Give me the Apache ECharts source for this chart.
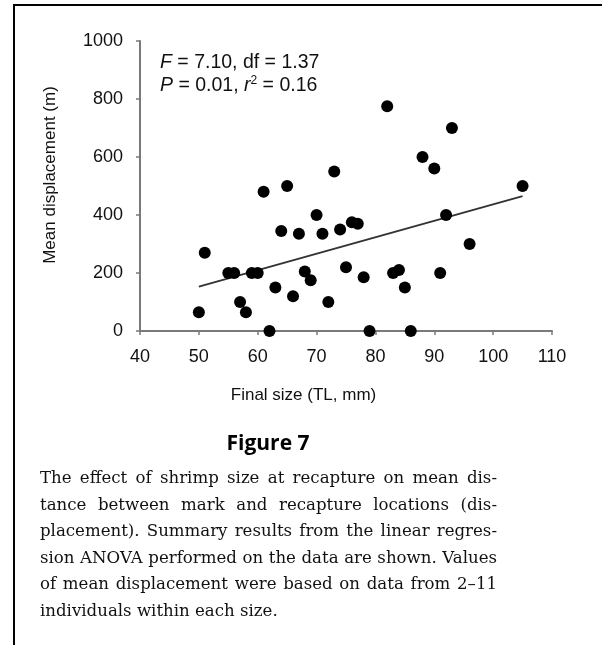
<!DOCTYPE html>
<html>
<head>
<meta charset="utf-8">
<script src="https://cdn.jsdelivr.net/npm/echarts@6/dist/echarts.min.js"></script>
<style>
  body { margin: 0; background: #fff; }
  #wrap { position: relative; width: 602px; height: 645px; overflow: hidden; }
  #frame {
    position: absolute; left: 13px; top: 4px; right: 0; bottom: 0;
    border-top: 2px solid #000; border-left: 2px solid #000;
  }
  #myChart { position: absolute; left: 0; top: 0; width: 602px; height: 645px; }
  #caption {
    position: absolute; left: 40px; top: 465px; width: 457px;
    font-family: "DejaVu Serif", serif; font-size: 16.6px; line-height: 26.5px;
    color: #111;
  }
  #caption span { display: block; text-align: justify; text-align-last: justify; white-space: nowrap; }
  #caption span.last { text-align-last: left; }
</style>
</head>
<body>
<div id="wrap">
  <div id="frame"></div>
  <div id="myChart"></div>
  <div id="caption">
    <span>The effect of shrimp size at recapture on mean dis-</span>
    <span>tance between mark and recapture locations (dis-</span>
    <span>placement). Summary results from the linear regres-</span>
    <span>sion ANOVA performed on the data are shown. Values</span>
    <span>of mean displacement were based on data from 2&#8211;11</span>
    <span class="last">individuals within each size.</span>
  </div>
</div>
<script>
// final size (TL, mm) and mean displacement (m)
var sizeMm = [50, 51, 55, 56, 57, 58, 59, 60, 61, 62, 63, 64, 65, 66, 67, 68, 69, 70, 71, 72,
  73, 74, 75, 76, 77, 78, 79, 82, 83, 84, 85, 86, 88, 90, 91, 92, 93, 96, 105];
var displacement = [65, 270, 200, 200, 100, 65, 200, 200, 480, 0, 150, 345, 500, 120, 335, 205, 175, 400, 335, 100,
  550, 350, 220, 375, 370, 185, 0, 775, 200, 210, 150, 0, 600, 560, 200, 400, 700, 300, 500];
// regression line ends
var fitX = [50, 105];
var fitY = [153, 465];
var xTicks = [40, 50, 60, 70, 80, 90, 100, 110];
var yTicks = [0, 200, 400, 600, 800, 1000];

var points = [];
for (var i = 0; i < sizeMm.length; i++) {
  points.push([sizeMm[i], displacement[i]]);
}
var fitLine = [];
for (var j = 0; j < fitX.length; j++) {
  fitLine.push([fitX[j], fitY[j]]);
}

var axisGray = '#7a7a7a';
var chart = echarts.init(document.getElementById('myChart'));
chart.setOption({
  animation: false,
  grid: { left: 140, right: 50, top: 41, bottom: 314, containLabel: false },
  xAxis: {
    type: 'value',
    min: xTicks[0],
    max: xTicks[xTicks.length - 1],
    interval: 10,
    name: 'Final size (TL, mm)',
    nameLocation: 'middle',
    nameGap: 56,
    nameTextStyle: {
      fontFamily: 'Liberation Sans', fontSize: 17, color: '#111',
      padding: [0, 85, 0, 0]
    },
    axisLine: { lineStyle: { color: axisGray, width: 2 } },
    axisTick: { length: 4, lineStyle: { color: axisGray, width: 1.5 } },
    axisLabel: { margin: 17, fontFamily: 'Liberation Sans', fontSize: 18, color: '#111' },
    splitLine: { show: false }
  },
  yAxis: {
    type: 'value',
    min: yTicks[0],
    max: yTicks[yTicks.length - 1],
    interval: 200,
    name: 'Mean displacement (m)',
    nameLocation: 'middle',
    nameGap: 81,
    nameTextStyle: {
      fontFamily: 'Liberation Sans', fontSize: 17, color: '#111',
      padding: [0, 0, 0, 22]
    },
    axisLine: { show: true, lineStyle: { color: axisGray, width: 2 } },
    axisTick: { show: true, length: 4, lineStyle: { color: axisGray, width: 1.5 } },
    axisLabel: {
      margin: 17, fontFamily: 'Liberation Sans', fontSize: 18, color: '#111',
      formatter: function (v) { return String(v); }
    },
    splitLine: { show: false }
  },
  series: [
    {
      type: 'line',
      data: fitLine,
      symbol: 'none',
      lineStyle: { color: '#333', width: 2 },
      z: 2
    },
    {
      type: 'scatter',
      data: points,
      symbol: 'circle',
      symbolSize: 12,
      clip: false,
      itemStyle: { color: '#000', opacity: 1 },
      z: 3
    }
  ],
  graphic: [
    {
      type: 'text',
      left: 160,
      top: 51,
      style: {
        text: '{i|F} = 7.10, df = 1.37\n{i|P} = 0.01, {i|r}{sup|2} = 0.16',
        fontFamily: 'Liberation Sans',
        fontSize: 19.5,
        lineHeight: 23,
        fill: '#111',
        rich: {
          i: { fontStyle: 'italic', fontFamily: 'Liberation Sans', fontSize: 19.5 },
          sup: { fontSize: 12, fontFamily: 'Liberation Sans', padding: [0, 0, 9, 0] }
        }
      }
    },
    {
      type: 'text',
      x: 268,
      y: 444,
      style: {
        text: 'Figure 7',
        fontFamily: 'Open Sans',
        fontWeight: 'bold',
        fontSize: 21,
        fill: '#000',
        textAlign: 'center',
        textVerticalAlign: 'middle'
      }
    }
  ]
});
</script>
</body>
</html>
